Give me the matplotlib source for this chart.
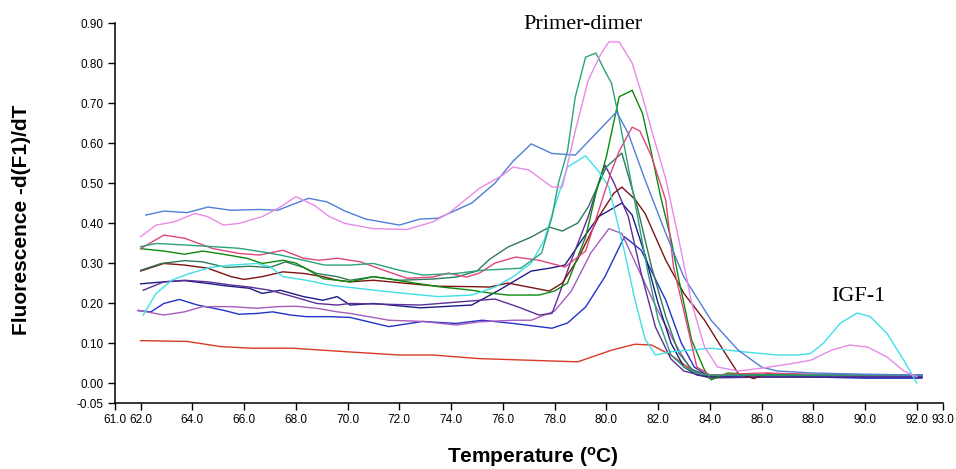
import matplotlib
matplotlib.use('Agg')
from matplotlib import pyplot as plt

plt.rcParams['font.family'] = ['Liberation Sans', 'DejaVu Sans']
plt.rcParams['mathtext.fontset'] = 'custom'
plt.rcParams['mathtext.rm'] = 'Liberation Sans:bold'
plt.rcParams['mathtext.bf'] = 'Liberation Sans:bold'
plt.rcParams['mathtext.default'] = 'bf'

# melt curves: temperature (C) and -d(F1)/dT
blue_t = [62.2, 62.9, 63.8, 64.6, 65.5, 66.6, 67.3, 68.5, 69.2, 69.9, 70.7, 72.0, 72.8, 73.5, 74.8, 75.7, 76.4,
          77.1, 77.9, 78.8, 79.6, 80.4, 80.85, 81.5, 82.3, 83.0, 84.05, 85.1, 86.0, 86.6, 88.0, 90.0, 92.2]
blue_v = [0.42, 0.43, 0.426, 0.44, 0.432, 0.434, 0.432, 0.462, 0.453, 0.43, 0.41, 0.395, 0.41, 0.412, 0.45, 0.50, 0.555,
          0.598, 0.574, 0.57, 0.624, 0.678, 0.624, 0.508, 0.374, 0.265, 0.157, 0.082, 0.04, 0.03, 0.025, 0.022, 0.02]

violet_t = [62.0, 62.6, 63.3, 64.1, 64.6, 65.2, 65.8, 66.7, 67.4, 68.0, 68.7, 69.3, 69.9, 71.0, 72.3, 73.3, 73.9,
            75.1, 76.0, 76.4, 77.0, 77.9, 78.3, 78.8, 79.3, 79.8, 80.1, 80.5, 81.0, 81.4, 81.75, 82.3, 82.8, 83.3,
            83.8, 84.3, 85.1, 86.0, 87.3, 87.9, 88.7, 89.4, 90.1, 90.85, 91.5, 92.0]
violet_v = [0.366, 0.395, 0.403, 0.424, 0.416, 0.395, 0.399, 0.416, 0.44, 0.466, 0.445, 0.416, 0.399, 0.386, 0.384,
            0.403, 0.424, 0.487, 0.52, 0.54, 0.533, 0.49, 0.49, 0.63, 0.757, 0.824, 0.853, 0.853, 0.80, 0.716, 0.633,
            0.51, 0.36, 0.20, 0.09, 0.04, 0.03, 0.037, 0.05, 0.057, 0.082, 0.095, 0.09, 0.065, 0.03, 0.016]

cyan_t = [62.1, 62.6, 63.2, 63.9, 64.7, 65.5, 66.5, 67.0, 67.5, 68.4, 69.3, 70.1, 71.6, 73.5, 74.8, 75.7, 76.4,
          77.1, 77.6, 78.0, 78.5, 79.2, 79.7, 80.1, 80.7, 81.1, 81.5, 81.9, 82.5, 84.05, 85.3, 86.6, 87.4, 87.9,
          88.4, 89.05, 89.7, 90.2, 90.85, 91.5, 92.0]
cyan_v = [0.17, 0.224, 0.257, 0.274, 0.289, 0.295, 0.299, 0.291, 0.266, 0.257, 0.245, 0.239, 0.228, 0.216, 0.22,
          0.24, 0.266, 0.30, 0.357, 0.44, 0.54, 0.568, 0.53, 0.49, 0.33, 0.21, 0.11, 0.07, 0.078, 0.087, 0.078,
          0.07, 0.07, 0.074, 0.10, 0.15, 0.175, 0.166, 0.124, 0.057, 0.0]

red_t = [62.0, 63.8, 65.1, 66.3, 67.9, 70.0, 72.0, 73.3, 75.1, 77.0, 78.9, 80.2, 81.1, 81.75, 82.5, 83.3, 84.05,
         86.0, 88.0, 90.0, 92.2]
red_v = [0.106, 0.104, 0.091, 0.087, 0.087, 0.078, 0.07, 0.07, 0.061, 0.057, 0.053, 0.082, 0.097, 0.095, 0.07,
         0.032, 0.02, 0.02, 0.02, 0.018, 0.018]

crimson_t = [62.0, 62.9, 63.7, 64.8, 65.8, 66.6, 67.5, 68.3, 68.9, 69.6, 70.5, 71.4, 72.3, 73.3, 73.9, 74.6, 75.1,
             75.7, 76.5, 77.4, 78.4, 79.2, 79.7, 80.2, 80.5, 81.0, 81.3, 81.75, 82.3, 82.6, 83.2, 83.5, 84.0, 86.0,
             88.0, 90.0, 92.2]
crimson_v = [0.336, 0.37, 0.362, 0.336, 0.324, 0.32, 0.332, 0.312, 0.307, 0.312, 0.303, 0.282, 0.262, 0.265, 0.275,
             0.265, 0.275, 0.30, 0.315, 0.307, 0.29, 0.33, 0.43, 0.53, 0.58, 0.64, 0.63, 0.566, 0.457, 0.29, 0.124,
             0.04, 0.02, 0.025, 0.022, 0.02, 0.02]

teal_t = [62.0, 62.6, 63.5, 64.8, 65.8, 66.7, 67.4, 68.3, 69.1, 70.1, 71.0, 72.0, 72.9, 74.2, 75.2, 76.7, 77.5,
          77.9, 78.15, 78.5, 78.8, 79.2, 79.6, 79.95, 80.2, 80.5, 80.85, 81.2, 81.6, 82.0, 82.5, 83.0, 83.5, 84.0,
          86.0, 88.0, 90.0, 92.2]
teal_v = [0.341, 0.349, 0.346, 0.341, 0.337, 0.328, 0.32, 0.307, 0.295, 0.295, 0.299, 0.282, 0.27, 0.274, 0.282,
          0.287, 0.325, 0.415, 0.50, 0.58, 0.715, 0.815, 0.825, 0.78, 0.75, 0.66, 0.54, 0.42, 0.28, 0.16, 0.07,
          0.04, 0.025, 0.02, 0.02, 0.02, 0.02, 0.02]

green_t = [62.0, 62.9, 63.7, 64.4, 65.2, 66.1, 66.7, 67.5, 68.0, 68.5, 69.05, 69.6, 70.1, 71.0, 72.3, 73.5, 74.8,
           75.5, 76.2, 77.4, 78.0, 78.5, 79.2, 79.6, 80.0, 80.5, 81.0, 81.4, 81.75, 82.1, 82.5, 82.8, 83.3, 83.8,
           84.05, 84.7, 86.0, 88.0, 90.0, 92.2]
green_v = [0.336, 0.33, 0.322, 0.33, 0.322, 0.312, 0.299, 0.307, 0.30, 0.282, 0.261, 0.257, 0.253, 0.266, 0.253,
           0.241, 0.232, 0.225, 0.22, 0.22, 0.23, 0.25, 0.365, 0.475, 0.565, 0.716, 0.732, 0.674, 0.574, 0.466,
           0.36, 0.26, 0.107, 0.032, 0.008, 0.025, 0.02, 0.02, 0.02, 0.02]

seagreen_t = [62.0, 62.8, 63.7, 64.4, 65.3, 66.2, 67.0, 67.6, 68.3, 68.8, 69.6, 70.1, 71.0, 72.0, 73.3, 74.2, 75.0,
              75.5, 76.2, 77.1, 77.8, 78.3, 78.9, 79.3, 80.0, 80.6, 81.2, 81.75, 82.3, 82.8, 83.3, 83.8, 86.0, 88.0,
              90.0, 92.2]
seagreen_v = [0.282, 0.299, 0.306, 0.303, 0.289, 0.292, 0.289, 0.303, 0.289, 0.274, 0.266, 0.257, 0.266, 0.257,
              0.26, 0.265, 0.28, 0.31, 0.34, 0.365, 0.39, 0.38, 0.40, 0.44, 0.54, 0.575, 0.44, 0.29, 0.166, 0.075,
              0.035, 0.02, 0.02, 0.02, 0.02, 0.02]

brown_t = [62.0, 62.9, 63.7, 64.6, 65.5, 66.0, 66.7, 67.5, 68.3, 69.05, 69.6, 70.1, 71.0, 72.3, 73.5, 74.8, 75.5,
           76.2, 77.0, 77.8, 78.3, 78.9, 79.7, 80.3, 80.6, 81.1, 81.5, 82.3, 83.0, 83.8, 84.6, 85.1, 85.7, 86.2,
           88.0, 90.0, 92.2]
brown_v = [0.28, 0.299, 0.295, 0.287, 0.266, 0.259, 0.266, 0.278, 0.274, 0.266, 0.257, 0.253, 0.257, 0.249, 0.242,
           0.241, 0.24, 0.25, 0.24, 0.23, 0.25, 0.31, 0.415, 0.475, 0.49, 0.46, 0.424, 0.307, 0.224, 0.157, 0.074,
           0.024, 0.011, 0.024, 0.02, 0.02, 0.02]

navy_t = [62.0, 62.9, 63.7, 64.6, 65.3, 66.2, 66.7, 67.4, 68.3, 69.05, 69.6, 70.1, 71.0, 72.8, 74.8, 75.85, 77.1,
          77.8, 78.4, 79.05, 79.7, 80.6, 81.0, 81.5, 82.0, 82.5, 83.0, 83.5, 84.0, 86.0, 88.0, 90.0, 92.2]
navy_v = [0.248, 0.253, 0.256, 0.249, 0.243, 0.237, 0.224, 0.232, 0.216, 0.207, 0.216, 0.195, 0.199, 0.188, 0.195,
          0.232, 0.28, 0.287, 0.295, 0.357, 0.416, 0.45, 0.42, 0.32, 0.2, 0.1, 0.04, 0.02, 0.015, 0.015, 0.015,
          0.015, 0.015]

purple_t = [62.1, 62.9, 63.7, 64.6, 65.5, 66.2, 67.0, 67.9, 68.8, 69.6, 70.1, 72.8, 75.7, 76.6, 77.4, 77.9, 78.1,
            78.65, 79.3, 79.7, 79.95, 80.3, 80.85, 81.35, 81.9, 82.5, 83.0, 83.6, 84.0, 86.0, 88.0, 90.0, 92.2]
purple_v = [0.232, 0.253, 0.257, 0.253, 0.245, 0.24, 0.232, 0.216, 0.199, 0.195, 0.199, 0.195, 0.21, 0.19, 0.17,
            0.174, 0.2075, 0.307, 0.416, 0.50, 0.545, 0.50, 0.416, 0.274, 0.14, 0.06, 0.03, 0.02, 0.018, 0.018,
            0.018, 0.018, 0.018]

mpurple_t = [61.9, 62.9, 63.7, 64.4, 65.5, 66.5, 67.3, 68.0, 68.8, 69.6, 70.1, 71.6, 72.9, 74.2, 75.1, 76.4, 77.1,
             78.0, 78.65, 79.4, 80.1, 80.6, 81.2, 82.0, 82.65, 83.2, 83.6, 84.0, 86.0, 88.0, 90.0, 92.2]
mpurple_v = [0.182, 0.17, 0.178, 0.191, 0.191, 0.187, 0.191, 0.192, 0.187, 0.178, 0.174, 0.157, 0.154, 0.145,
             0.153, 0.157, 0.157, 0.18, 0.23, 0.325, 0.386, 0.374, 0.29, 0.18, 0.1, 0.04, 0.02, 0.012, 0.015,
             0.015, 0.015, 0.015]

blue2_t = [61.9, 62.4, 62.9, 63.5, 64.2, 65.2, 65.8, 66.5, 67.1, 67.8, 68.4, 69.3, 70.1, 71.6, 72.9, 74.2, 75.2,
           76.4, 77.4, 77.9, 78.5, 79.2, 79.95, 80.7, 81.35, 82.3, 82.9, 83.4, 84.0, 86.0, 88.0, 90.0, 92.2]
blue2_v = [0.181, 0.178, 0.199, 0.209, 0.195, 0.182, 0.172, 0.174, 0.178, 0.170, 0.166, 0.166, 0.164, 0.141, 0.154,
           0.149, 0.157, 0.149, 0.141, 0.137, 0.15, 0.19, 0.266, 0.366, 0.332, 0.207, 0.1, 0.04, 0.015, 0.02,
           0.015, 0.012, 0.012]

x_ticks = [61.0, 62.0, 64.0, 66.0, 68.0, 70.0, 72.0, 74.0, 76.0, 78.0, 80.0, 82.0, 84.0, 86.0, 88.0, 90.0, 92.0, 93.0]
y_ticks = [-0.05, 0.00, 0.10, 0.20, 0.30, 0.40, 0.50, 0.60, 0.70, 0.80, 0.90]

curves = [
    (red_t, red_v, '#d83a26'),
    (blue2_t, blue2_v, '#2233c8'),
    (mpurple_t, mpurple_v, '#a75cbc'),
    (navy_t, navy_v, '#1c1c86'),
    (purple_t, purple_v, '#5b2f96'),
    (brown_t, brown_v, '#7c1414'),
    (seagreen_t, seagreen_v, '#2f7a5a'),
    (green_t, green_v, '#0b8a0b'),
    (cyan_t, cyan_v, '#3fe0e8'),
    (crimson_t, crimson_v, '#e0457f'),
    (teal_t, teal_v, '#2aa37a'),
    (blue_t, blue_v, '#4f7fd6'),
    (violet_t, violet_v, '#e88be8'),
]

fig = plt.figure(figsize=(9.56, 4.69), dpi=100)
ax = fig.add_axes([0.120, 0.1407, 0.866, 0.810])

for t, v, c in curves:
    ax.plot(t, v, '-', color=c, lw=1.0)

ax.set_xlim(61.0, 93.0)
ax.set_ylim(-0.05, 0.90)
ax.set_xticks(x_ticks)
ax.set_xticklabels(['%.1f' % x for x in x_ticks])
ax.set_yticks(y_ticks)
ax.set_yticklabels(['%.2f' % y for y in y_ticks])
ax.tick_params(labelsize=8.5, length=5, width=1, pad=3, direction='out')
ax.spines['top'].set_visible(False)
ax.spines['right'].set_visible(False)
ax.spines['left'].set_linewidth(1.1)
ax.spines['bottom'].set_linewidth(1.1)

ax.text(79.1, 0.8975, 'Primer-dimer', family='Liberation Serif', fontsize=16, ha='center', va='center')
ax.text(89.73, 0.2175, 'IGF-1', family='Liberation Serif', fontsize=16, ha='center', va='center')

fig.text(22 / 956, 1 - 220 / 469, 'Fluorescence -d(F1)/dT', fontsize=15, fontweight='bold',
         rotation=90, ha='center', va='center')
fig.text(533 / 956, 1 - 457 / 469, r'Temperature ($^{\mathbf{o}}$C)', fontsize=15, fontweight='bold',
         ha='center', va='center')

plt.savefig('out.png', dpi=100)
